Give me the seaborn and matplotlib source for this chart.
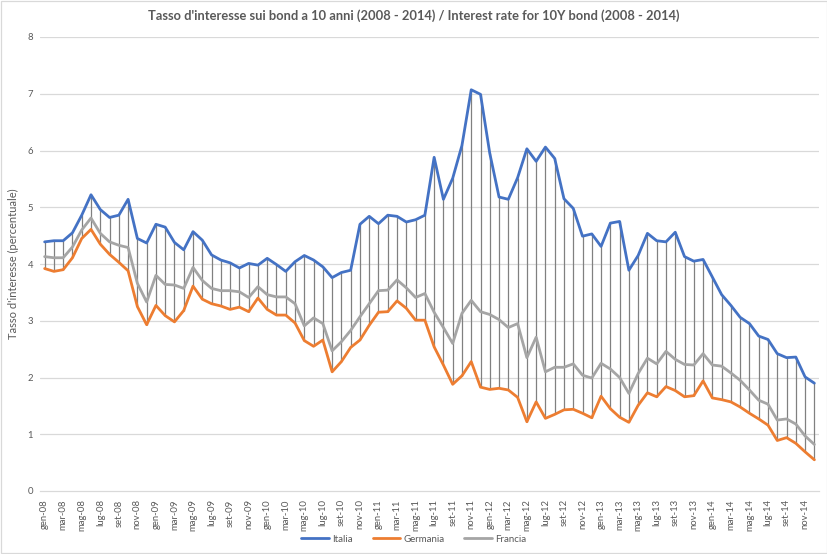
import numpy as np
import pandas as pd
import matplotlib
matplotlib.use("Agg")
import matplotlib.pyplot as plt
from matplotlib.patches import Rectangle
from matplotlib.ticker import FixedLocator, MultipleLocator
import seaborn as sns

months_it = ["gen", "feb", "mar", "apr", "mag", "giu", "lug", "ago", "set", "ott", "nov", "dic"]
years = ["08", "09", "10", "11", "12", "13", "14"]
categories = [f"{m}-{y}" for y in years for m in months_it]

italia = [4.39, 4.41, 4.41, 4.55, 4.86, 5.22, 4.96, 4.82, 4.86, 5.14, 4.45, 4.37,
          4.70, 4.65, 4.38, 4.25, 4.57, 4.42, 4.16, 4.07, 4.02, 3.93, 4.01, 3.98,
          4.10, 3.99, 3.87, 4.04, 4.15, 4.07, 3.95, 3.76, 3.85, 3.89, 4.70, 4.84,
          4.71, 4.86, 4.84, 4.74, 4.78, 4.86, 5.88, 5.14, 5.51, 6.09, 7.07, 6.99,
          5.95, 5.18, 5.14, 5.52, 6.03, 5.81, 6.06, 5.86, 5.15, 4.98, 4.49, 4.53,
          4.31, 4.72, 4.75, 3.89, 4.15, 4.54, 4.41, 4.39, 4.56, 4.13, 4.05, 4.08,
          3.77, 3.46, 3.27, 3.06, 2.95, 2.73, 2.67, 2.42, 2.35, 2.36, 2.01, 1.90]

germania = [3.92, 3.87, 3.90, 4.11, 4.45, 4.61, 4.35, 4.17, 4.03, 3.88, 3.25, 2.93,
            3.27, 3.09, 2.98, 3.18, 3.61, 3.38, 3.30, 3.26, 3.20, 3.24, 3.16, 3.40,
            3.20, 3.10, 3.10, 2.96, 2.65, 2.55, 2.66, 2.10, 2.28, 2.53, 2.66, 2.92,
            3.15, 3.16, 3.35, 3.22, 3.01, 3.01, 2.54, 2.22, 1.88, 2.03, 2.28, 1.83,
            1.79, 1.81, 1.78, 1.65, 1.22, 1.57, 1.28, 1.35, 1.43, 1.44, 1.37, 1.29,
            1.67, 1.45, 1.30, 1.21, 1.51, 1.73, 1.66, 1.84, 1.77, 1.66, 1.68, 1.94,
            1.64, 1.61, 1.57, 1.48, 1.37, 1.27, 1.16, 0.89, 0.94, 0.84, 0.69, 0.55]

francia = [4.13, 4.11, 4.11, 4.30, 4.60, 4.81, 4.54, 4.39, 4.33, 4.29, 3.66, 3.33,
           3.80, 3.64, 3.63, 3.57, 3.94, 3.71, 3.57, 3.53, 3.53, 3.51, 3.41, 3.60,
           3.46, 3.42, 3.42, 3.30, 2.91, 3.05, 2.95, 2.47, 2.63, 2.83, 3.07, 3.30,
           3.53, 3.54, 3.72, 3.58, 3.41, 3.48, 3.15, 2.88, 2.60, 3.13, 3.36, 3.16,
           3.11, 3.02, 2.88, 2.95, 2.35, 2.71, 2.10, 2.18, 2.18, 2.24, 2.04, 1.99,
           2.25, 2.15, 2.00, 1.72, 2.07, 2.34, 2.24, 2.46, 2.32, 2.23, 2.22, 2.42,
           2.22, 2.20, 2.08, 1.95, 1.78, 1.60, 1.53, 1.25, 1.27, 1.18, 0.97, 0.82]

series_names = ["Italia", "Germania", "Francia"]
colors = ["#4472C4", "#ED7D31", "#A5A5A5"]

x = np.arange(len(categories))
df = pd.DataFrame({
    "idx": np.tile(x, 3),
    "valore": italia + germania + francia,
    "paese": np.repeat(series_names, len(categories)),
})

sns.set_theme(style="white")
plt.rcParams["font.family"] = ["Lato", "DejaVu Sans"]
text_col = "#595959"

fig = plt.figure(figsize=(8.28, 5.54), dpi=100)
ax = fig.add_axes([40 / 828, 1 - 491 / 554, (819 - 40) / 828, (491 - 37) / 554])

# horizontal gridlines
for yv in range(1, 9):
    ax.axhline(yv, color="#D9D9D9", lw=0.9, zorder=0)

# high-low lines
ax.vlines(x, np.array(germania), np.array(italia), color="#808080", lw=0.9, zorder=1)

sns.lineplot(data=df, x="idx", y="valore", hue="paese", hue_order=series_names,
             palette=colors, linewidth=2.0, ax=ax, legend=False, zorder=3)

ax.set_xlim(-0.5, len(categories) - 0.5)
ax.set_ylim(0, 8)
ax.yaxis.set_major_locator(MultipleLocator(1))
ax.set_xticks(x[::2])
ax.set_xticklabels(categories[::2], rotation=90, fontsize=6.8, color=text_col)
ax.xaxis.set_minor_locator(FixedLocator(np.arange(-0.5, len(categories), 2)))
ax.tick_params(axis="x", which="major", length=0, pad=6)
ax.tick_params(axis="x", which="minor", length=4, color="#D9D9D9", width=0.9, direction="out")
ax.tick_params(axis="y", length=0, labelsize=6.8, labelcolor=text_col, pad=5)
for lbl in ax.get_yticklabels():
    lbl.set_color(text_col)

for s in ["top", "right", "left"]:
    ax.spines[s].set_visible(False)
ax.spines["bottom"].set_color("#D9D9D9")
ax.spines["bottom"].set_linewidth(0.9)

ax.set_xlabel("")
ax.set_ylabel("Tasso d'interesse (percentuale)", fontsize=8, color=text_col)
ax.yaxis.set_label_coords((19 - 40) / 779, 0.5)

fig.text(0.5, 1 - 16 / 554, "Tasso d'interesse sui bond a 10 anni (2008 - 2014) / Interest rate for 10Y bond (2008 - 2014)",
         ha="center", va="center", fontsize=9.3, fontweight="bold", color=text_col)

handles = [plt.Line2D([0], [0], color=c, lw=2.0) for c in colors]
fig.legend(handles, series_names, loc="center", bbox_to_anchor=(0.5, 1 - 539 / 554), ncol=3,
           frameon=False, fontsize=7, labelcolor=text_col, handlelength=2.8, columnspacing=2.0,
           handletextpad=0.4)

fig.patches.append(Rectangle((1 / 828, 1 / 554), 826 / 828, 552 / 554, transform=fig.transFigure,
                             fill=False, edgecolor="#D9D9D9", lw=0.9))

fig.savefig("out.png", dpi=100, facecolor="white")
